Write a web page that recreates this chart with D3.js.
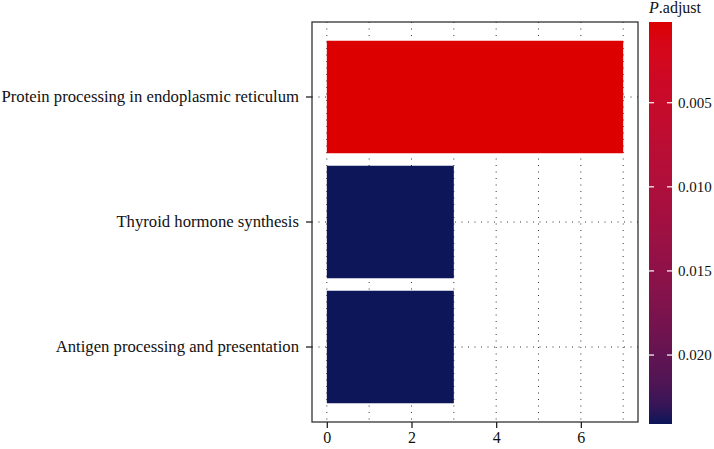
<!DOCTYPE html>
<html>
<head>
<meta charset="utf-8">
<script src="https://cdn.jsdelivr.net/npm/d3@7"></script>
<style>
	body { margin: 0; background: #fff; }
	text { font-family: "Liberation Serif", "DejaVu Serif", serif; }
</style>
</head>
<body>
<script>
	// chart data
	let pathways = ["Protein processing in endoplasmic reticulum", "Thyroid hormone synthesis", "Antigen processing and presentation"]
	let counts = [7, 3, 3]
	let padj = [0.0002, 0.0241, 0.0241]
	let xTicks = [0, 2, 4, 6]
	let legendTicks = [0.005, 0.010, 0.015, 0.020]

	let width = 714, height = 449
	let panel = {left: 312, right: 638, top: 22, bottom: 422}

	let svg = d3.select("body").append("svg").attr("width", width).attr("height", height)

	let x = d3.scaleLinear().domain([-0.35, 7.35]).range([panel.left, panel.right])
	let y = d3.scaleBand().domain(pathways).range([panel.top, panel.bottom]).paddingInner(0.1).paddingOuter(0.15)
	let color = d3.scaleLinear().domain(d3.extent(padj)).range(["#dc0000", "#0c1659"]).interpolate(d3.interpolateRgb.gamma(2.2))

	// grid lines (dotted)
	let grid = svg.append("g").attr("stroke", "#333").attr("stroke-width", 1).attr("stroke-dasharray", "1,5.5")
	grid.selectAll(".vg").data(d3.range(0, 8)).enter().append("line")
		.attr("x1", d => x(d)).attr("x2", d => x(d))
		.attr("y1", panel.top).attr("y2", panel.bottom)
	grid.selectAll(".hg").data(pathways).enter().append("line")
		.attr("x1", panel.left).attr("x2", panel.right)
		.attr("y1", d => y(d) + y.bandwidth() / 2).attr("y2", d => y(d) + y.bandwidth() / 2)

	// bars
	svg.selectAll(".bar").data(pathways).enter().append("rect")
		.attr("x", x(0))
		.attr("y", d => y(d))
		.attr("width", (d, i) => x(counts[i]) - x(0))
		.attr("height", y.bandwidth())
		.attr("fill", (d, i) => color(padj[i]))

	// panel border
	svg.append("rect")
		.attr("x", panel.left).attr("y", panel.top)
		.attr("width", panel.right - panel.left).attr("height", panel.bottom - panel.top)
		.attr("fill", "none").attr("stroke", "#333").attr("stroke-width", 1.3)

	// x axis
	let xAxis = svg.append("g").attr("transform", `translate(0,${panel.bottom})`)
		.call(d3.axisBottom(x).tickValues(xTicks).tickSize(6).tickPadding(4).tickFormat(d3.format("d")))
	xAxis.select(".domain").remove()
	xAxis.selectAll("line").attr("stroke", "#222").attr("stroke-width", 1.3)
	xAxis.selectAll("text").attr("font-size", 16).attr("fill", "#111")

	// y axis
	let yAxis = svg.append("g").attr("transform", `translate(${panel.left},0)`)
		.call(d3.axisLeft(y).tickSize(6).tickPadding(7))
	yAxis.select(".domain").remove()
	yAxis.selectAll("line").attr("stroke", "#222").attr("stroke-width", 1.3)
	yAxis.selectAll("text").attr("font-size", 16.7).attr("fill", "#111")

	// colour legend
	let lg = {x: 649, w: 23, top: 22, bottom: 424}
	let ly = d3.scaleLinear().domain(d3.extent(padj)).range([lg.top, lg.bottom])
	let defs = svg.append("defs")
	let grad = defs.append("linearGradient").attr("id", "pgrad").attr("x1", 0).attr("x2", 0).attr("y1", 0).attr("y2", 1)
	grad.selectAll("stop").data(d3.range(0, 1.01, 0.05)).enter().append("stop")
		.attr("offset", d => d)
		.attr("stop-color", d => color(ly.invert(lg.top + d * (lg.bottom - lg.top))))
	svg.append("rect").attr("x", lg.x).attr("y", lg.top).attr("width", lg.w).attr("height", lg.bottom - lg.top)
		.attr("fill", "url(#pgrad)")

	let lt = svg.append("g")
	lt.selectAll(".tl").data(legendTicks).enter().append("line")
		.attr("x1", lg.x).attr("x2", lg.x + 5).attr("y1", d => ly(d)).attr("y2", d => ly(d))
		.attr("stroke", "#fff").attr("stroke-width", 1.2)
	lt.selectAll(".tr").data(legendTicks).enter().append("line")
		.attr("x1", lg.x + lg.w - 5).attr("x2", lg.x + lg.w).attr("y1", d => ly(d)).attr("y2", d => ly(d))
		.attr("stroke", "#fff").attr("stroke-width", 1.2)
	lt.selectAll("text").data(legendTicks).enter().append("text")
		.attr("x", lg.x + lg.w + 6).attr("y", d => ly(d)).attr("dy", "0.35em")
		.attr("font-size", 15).attr("fill", "#111")
		.text(d => d3.format(".3f")(d))

	let title = svg.append("text").attr("x", lg.x).attr("y", 13).attr("font-size", 16).attr("fill", "#111")
	title.append("tspan").attr("font-style", "italic").text("P")
	title.append("tspan").text(".adjust")
</script>
</body>
</html>
